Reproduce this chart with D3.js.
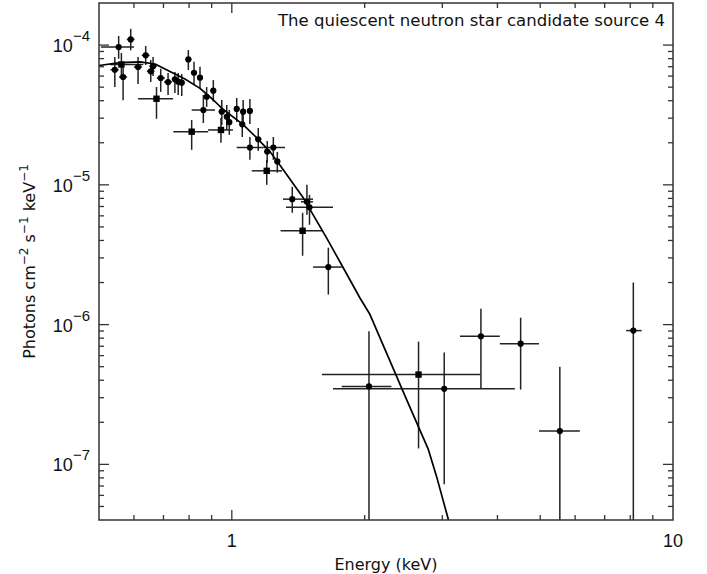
<!DOCTYPE html>
<html>
<head>
<meta charset="utf-8">
<script src="https://cdn.jsdelivr.net/npm/d3@7"></script>
<style>
  html, body { margin: 0; padding: 0; background: #fff; }
  svg { display: block; }
  text { fill: #111; }
</style>
</head>
<body>
<svg id="chart" width="707" height="574"></svg>
<script>
// ---------------- DATA ----------------
const titleText = "The quiescent neutron star candidate source 4";
const xLabelText = "Energy (keV)";
const xDomain = [0.5, 10];
const yDomain = [4e-8, 2e-4];
const xMajorTicks = [1, 10];
const xTickLabels = ["1", "10"];
const yMajorTicks = [1e-4, 1e-5, 1e-6, 1e-7];
const yTickExponents = ["\u22124", "\u22125", "\u22126", "\u22127"];

// Series A (filled circles): energy, energy range, flux, flux range
const circEnergy = [0.543,0.554,0.567,0.590,0.613,0.638,0.655,0.663,0.690,0.717,0.743,0.756,0.770,0.797,0.821,0.847,0.862,0.877,0.908,0.949,0.974,0.987,1.026,1.056,1.061,1.099,1.099,1.148,1.203,1.242,1.268,1.371,1.48,1.50,1.655,2.046,3.03,3.67,4.515,5.54,8.13];
const circELow   = [0.531,0.505,0.555,0.578,0.600,0.625,0.642,0.650,0.676,0.702,0.733,0.745,0.759,0.785,0.808,0.835,0.811,0.864,0.894,0.934,0.960,0.973,1.012,1.041,1.046,1.084,1.026,1.130,1.185,1.178,1.248,1.306,1.435,1.327,1.528,1.775,1.696,3.29,4.05,4.97,7.83];
const circEHigh  = [0.554,0.600,0.579,0.602,0.626,0.651,0.668,0.676,0.705,0.732,0.754,0.767,0.781,0.810,0.833,0.860,0.916,0.890,0.921,0.963,0.988,1.001,1.040,1.071,1.076,1.114,1.178,1.166,1.222,1.320,1.288,1.528,1.528,1.696,1.775,2.30,4.38,4.05,4.97,6.15,8.49];
const circFlux   = [6.66e-5,9.68e-5,5.91e-5,1.098e-4,6.97e-5,8.44e-5,6.49e-5,7.05e-5,5.81e-5,5.44e-5,5.69e-5,5.47e-5,5.38e-5,7.9e-5,6.34e-5,5.84e-5,3.43e-5,4.27e-5,4.72e-5,3.34e-5,3.07e-5,2.81e-5,3.49e-5,2.71e-5,3.34e-5,3.38e-5,1.85e-5,2.12e-5,1.73e-5,1.85e-5,1.47e-5,7.9e-6,7.56e-6,6.91e-6,2.58e-6,3.61e-7,3.47e-7,8.25e-7,7.31e-7,1.73e-7,9.06e-7];
const circFLow   = [5.01e-5,7.98e-5,4.03e-5,9.17e-5,5.27e-5,7.2e-5,5.44e-5,6.01e-5,4.62e-5,4.39e-5,4.54e-5,4.39e-5,4.32e-5,6.63e-5,5.18e-5,4.9e-5,2.77e-5,3.61e-5,3.94e-5,2.68e-5,2.47e-5,2.28e-5,2.82e-5,2.2e-5,2.73e-5,2.73e-5,1.51e-5,1.75e-5,1.44e-5,1.51e-5,1.22e-5,6.31e-6,6.1e-6,5.18e-6,1.64e-6,0,7.2e-8,3.47e-7,3.43e-7,0,0];
const circFHigh  = [8.21e-5,1.16e-4,7.16e-5,1.307e-4,8.21e-5,9.84e-5,7.82e-5,8.21e-5,6.77e-5,6.31e-5,6.41e-5,6.31e-5,6.21e-5,9.21e-5,7.6e-5,7.0e-5,4.39e-5,5.01e-5,5.62e-5,4.05e-5,3.73e-5,3.43e-5,4.18e-5,3.27e-5,4.05e-5,4.12e-5,2.2e-5,2.55e-5,2.06e-5,2.2e-5,1.72e-5,9.67e-6,1.0e-5,8.48e-6,3.55e-6,8.96e-7,6.31e-7,1.30e-6,1.12e-6,4.99e-7,2.0e-6];

// Series B (filled squares)
const sqEnergy = [0.562,0.675,0.811,0.945,1.20,1.447,2.65];
const sqELow   = [0.53,0.613,0.737,0.883,1.11,1.29,1.60];
const sqEHigh  = [0.63,0.736,0.884,1.006,1.30,1.60,3.66];
const sqFlux   = [7.26e-5,4.13e-5,2.40e-5,2.47e-5,1.26e-5,4.69e-6,4.39e-7];
const sqFLow   = [5.91e-5,2.97e-5,1.78e-5,2.0e-5,1.0e-5,3.11e-6,1.30e-7];
const sqFHigh  = [8.77e-5,5.01e-5,2.91e-5,3.01e-5,1.51e-5,6.31e-6,7.56e-7];

// Best-fit model curve
const modelEnergy = [0.5,0.558,0.619,0.670,0.724,0.783,0.847,0.906,0.950,1.061,1.139,1.22,1.308,1.453,1.641,1.79,1.952,2.057,2.49,2.789,2.91,3.095,3.205];
const modelFlux   = [7.14e-5,7.5e-5,7.59e-5,7.32e-5,6.47e-5,5.72e-5,4.9e-5,4.08e-5,3.52e-5,2.70e-5,2.17e-5,1.73e-5,1.28e-5,8.04e-6,4.16e-6,2.54e-6,1.55e-6,1.18e-6,2.91e-7,1.28e-7,8.24e-8,4.05e-8,2.64e-8];

// ---------------- CHART ----------------
const m = {left: 99, top: 3, right: 673, bottom: 520};
const svg = d3.select("#chart");

const x = d3.scaleLog().domain(xDomain).range([m.left, m.right]);
const y = d3.scaleLog().domain(yDomain).range([m.bottom, m.top]);
const yc = v => (v <= 0 ? y(yDomain[0]) : y(Math.max(v, yDomain[0])));

svg.append("defs").append("clipPath").attr("id", "clip")
  .append("rect").attr("x", m.left).attr("y", m.top)
  .attr("width", m.right - m.left).attr("height", m.bottom - m.top);

const plot = svg.append("g").attr("clip-path", "url(#clip)");

// error bars
function errorBars(E, El, Eh, F, Fl, Fh) {
  const g = plot.append("g").attr("stroke", "#222").attr("stroke-width", 1.5).attr("fill", "none");
  E.forEach((e, i) => {
    g.append("line").attr("x1", x(El[i])).attr("x2", x(Eh[i]))
      .attr("y1", y(F[i])).attr("y2", y(F[i]));
    g.append("line").attr("x1", x(e)).attr("x2", x(e))
      .attr("y1", yc(Fl[i])).attr("y2", yc(Fh[i]));
  });
}
errorBars(circEnergy, circELow, circEHigh, circFlux, circFLow, circFHigh);
errorBars(sqEnergy, sqELow, sqEHigh, sqFlux, sqFLow, sqFHigh);

// model
const modelData = modelEnergy.map((e, i) => [e, modelFlux[i]]);
plot.append("path").datum(modelData)
  .attr("fill", "none").attr("stroke", "#000").attr("stroke-width", 1.7)
  .attr("stroke-linejoin", "round")
  .attr("d", d3.line().x(d => x(d[0])).y(d => y(d[1])));

// markers
plot.append("g").selectAll("circle").data(circEnergy).join("circle")
  .attr("cx", d => x(d)).attr("cy", (d, i) => y(circFlux[i])).attr("r", 3.1).attr("fill", "#000");
plot.append("g").selectAll("rect").data(sqEnergy).join("rect")
  .attr("x", d => x(d) - 3.2).attr("y", (d, i) => y(sqFlux[i]) - 3.2)
  .attr("width", 6.4).attr("height", 6.4).attr("fill", "#000");

// frame
svg.append("rect").attr("x", m.left).attr("y", m.top)
  .attr("width", m.right - m.left).attr("height", m.bottom - m.top)
  .attr("fill", "none").attr("stroke", "#333").attr("stroke-width", 1.5);

// ticks
const tg = svg.append("g").attr("stroke", "#333").attr("stroke-width", 1.3);
const majLen = 10, minLen = 5;
function logTicks(domain) {
  const out = [];
  const lo = Math.floor(Math.log10(domain[0])), hi = Math.ceil(Math.log10(domain[1]));
  for (let p = lo; p <= hi; p++) for (let k = 1; k < 10; k++) {
    const v = k * Math.pow(10, p);
    if (v > domain[0] * 1.0001 && v < domain[1] * 0.9999) out.push({v, major: k === 1});
  }
  return out;
}
logTicks(xDomain).forEach(t => {
  const L = t.major ? majLen : minLen, px = x(t.v);
  tg.append("line").attr("x1", px).attr("x2", px).attr("y1", m.bottom).attr("y2", m.bottom - L);
  tg.append("line").attr("x1", px).attr("x2", px).attr("y1", m.top).attr("y2", m.top + L);
});
logTicks(yDomain).forEach(t => {
  const L = t.major ? majLen : minLen, py = y(t.v);
  tg.append("line").attr("y1", py).attr("y2", py).attr("x1", m.left).attr("x2", m.left + L);
  tg.append("line").attr("y1", py).attr("y2", py).attr("x1", m.right).attr("x2", m.right - L);
});

// x tick labels
xMajorTicks.forEach((v, i) => {
  svg.append("text").attr("x", x(v)).attr("y", 547).attr("text-anchor", "middle")
    .style("font-family", "'Liberation Sans', Arial, sans-serif").style("font-size", "18px")
    .text(xTickLabels[i]);
});
// y tick labels
yMajorTicks.forEach((v, i) => {
  const t = svg.append("text").attr("x", 90).attr("y", y(v) + 7).attr("text-anchor", "end")
    .style("font-family", "'Liberation Sans', Arial, sans-serif").style("font-size", "18px");
  t.append("tspan").text("10");
  t.append("tspan").attr("dy", -11).style("font-size", "15px").text(yTickExponents[i]);
});

// axis titles
svg.append("text").attr("x", (m.left + m.right) / 2).attr("y", 570).attr("text-anchor", "middle")
  .style("font-family", "'DejaVu Sans', sans-serif").style("font-size", "16px")
  .text(xLabelText);

const yl = svg.append("text").attr("transform", `translate(35,${(m.top + m.bottom) / 2}) rotate(-90)`)
  .attr("text-anchor", "middle")
  .style("font-family", "'DejaVu Sans', sans-serif").style("font-size", "16px");
const yParts = [["Photons cm", null], ["\u22122", "sup"], [" s", null], ["\u22121", "sup"], [" keV", null], ["\u22121", "sup"]];
yParts.forEach((p, i) => {
  const s = yl.append("tspan").text(p[0]);
  if (p[1] === "sup") s.attr("dy", -7).style("font-size", "12px");
  else s.attr("dy", i === 0 ? 0 : 7).style("font-size", "16px");
});

// title
svg.append("text").attr("x", 665).attr("y", 26).attr("text-anchor", "end")
  .style("font-family", "'DejaVu Sans', sans-serif").style("font-size", "15px")
  .attr("textLength", 387).attr("lengthAdjust", "spacingAndGlyphs")
  .text(titleText);
</script>
</body>
</html>
